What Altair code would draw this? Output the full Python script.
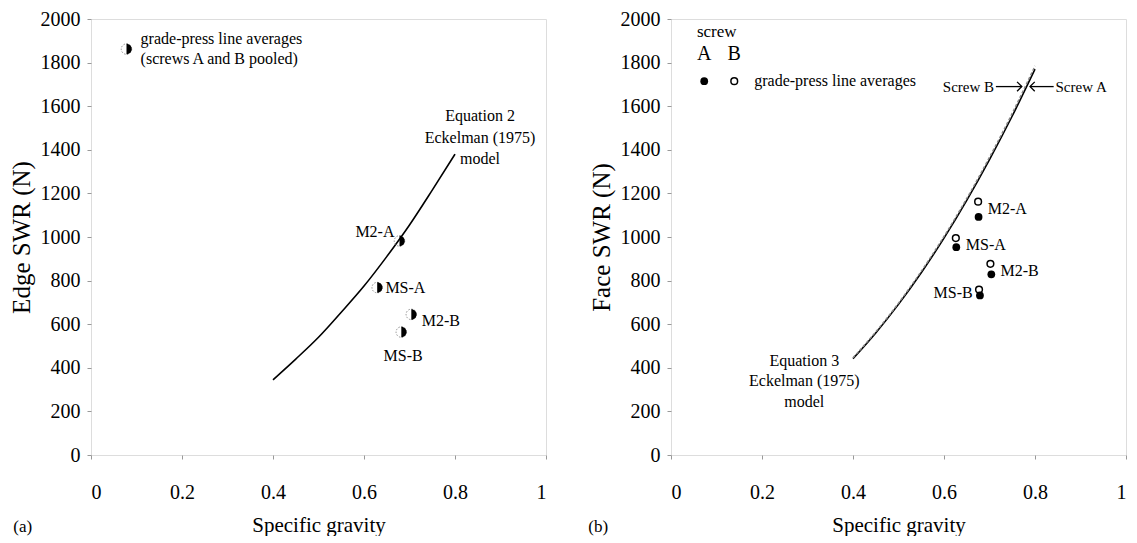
import altair as alt
import pandas as pd

FONT = "'Liberation Serif', 'Times New Roman', 'DejaVu Serif', serif"

# ---------------- data ----------------
point_labels = ["M2-A", "MS-A", "M2-B", "MS-B"]

# Panel (a): edge SWR, grade-press line averages (screws pooled)
edge_sg = [0.678, 0.629, 0.704, 0.682]
edge_swr = [982, 768, 645, 564]

# Eckelman (1975) model curves
curve_sg = [0.40, 0.45, 0.50, 0.55, 0.60, 0.65, 0.70, 0.75, 0.80]
edge_curve = [345, 440, 540, 655, 775, 910, 1055, 1215, 1380]
face_curve_a = [442, 560, 691, 836, 995, 1168, 1355, 1555, 1770]
face_curve_b = [446, 565, 697, 843, 1003, 1177, 1366, 1568, 1785]

# Panel (b): face SWR by screw
face_sg_a = [0.676, 0.627, 0.704, 0.679]
face_swr_a = [1092, 953, 829, 732]
face_sg_b = [0.675, 0.626, 0.702, 0.677]
face_swr_b = [1162, 995, 877, 759]

x_ticks = [0, 0.2, 0.4, 0.6, 0.8, 1]
y_ticks = [0, 200, 400, 600, 800, 1000, 1200, 1400, 1600, 1800, 2000]

W, H = 455, 436

# ---------------- helpers ----------------
def X(title):
    return alt.X("x:Q", scale=alt.Scale(domain=[0, 1], nice=False, zero=False),
                 axis=alt.Axis(values=x_ticks, format=".1~f", title=title, grid=False,
                               domain=False, tickSize=4, tickColor="#999",
                               labelPadding=23, labelFont=FONT, labelFontSize=20,
                               labelColor="black", titleFont=FONT, titleFontSize=21,
                               titleFontWeight="normal", titleColor="black",
                               titlePadding=12))


def Y(title):
    return alt.Y("y:Q", scale=alt.Scale(domain=[0, 2000], nice=False),
                 axis=alt.Axis(values=y_ticks, format="d", title=title, grid=False,
                               domain=False, tickSize=4, tickColor="#999",
                               labelPadding=7, labelFont=FONT, labelFontSize=20,
                               labelColor="black", titleFont=FONT, titleFontSize=25,
                               titleFontWeight="normal", titleColor="black",
                               titlePadding=6))


def texts(xs, ys, ts, align, xt, yt, size=16):
    df = pd.DataFrame({"x": xs, "y": ys, "t": ts})
    return alt.Chart(df).mark_text(align=align, baseline="middle", font=FONT,
                                   fontSize=size, color="black").encode(
        x=X(xt), y=Y(yt), text="t:N")


# ---------------- panel (a) ----------------
xa, ya = "Specific gravity", "Edge SWR (N)"
curve_a_df = pd.DataFrame({"x": curve_sg, "y": edge_curve})
pts_a_df = pd.DataFrame({"x": edge_sg + [0.078], "y": edge_swr + [1862]})

half = "M0,-1A1,1,0,0,1,0,1Z"

a_layers = [
    alt.Chart(curve_a_df).mark_line(color="black", strokeWidth=1.6, interpolate="monotone")
    .encode(x=X(xa), y=Y(ya)),
    alt.Chart(pts_a_df).mark_point(shape="circle", size=110, filled=False, stroke="#777",
                                   strokeWidth=0.8, strokeDash=[1.5, 1.5], opacity=1)
    .encode(x=X(xa), y=Y(ya)),
    alt.Chart(pts_a_df).mark_point(shape=half, size=110, filled=True, fill="black",
                                   strokeWidth=0, opacity=1)
    .encode(x=X(xa), y=Y(ya)),
    texts([0.667], [1024], ["M2-A"], "right", xa, ya),
    texts([0.647, 0.727], [768, 614], ["MS-A", "M2-B"], "left", xa, ya),
    texts([0.686], [455], ["MS-B"], "center", xa, ya),
    texts([0.109, 0.109], [1908, 1818],
          ["grade-press line averages", "(screws A and B pooled)"], "left", xa, ya),
    texts([0.855, 0.855, 0.855], [1556, 1456, 1356],
          ["Equation 2", "Eckelman (1975)", "model"], "center", xa, ya),
    texts([-0.15], [-331], ["(a)"], "center", xa, ya, size=17),
]
panel_a = alt.layer(*a_layers).properties(width=W, height=H)

# ---------------- panel (b) ----------------
xb, yb = "Specific gravity", "Face SWR (N)"
curve_b_a = pd.DataFrame({"x": curve_sg, "y": face_curve_a})
curve_b_b = pd.DataFrame({"x": curve_sg, "y": face_curve_b})
pts_fa = pd.DataFrame({"x": face_sg_a + [0.073], "y": face_swr_a + [1715]})
pts_fb = pd.DataFrame({"x": face_sg_b + [0.139], "y": face_swr_b + [1715]})

arrow_y = 1690
arrow_rules = pd.DataFrame({"x": [0.714, 0.789], "x2": [0.771, 0.841],
                            "y": [arrow_y, arrow_y]})
tip_r = pd.DataFrame({"x": [0.771], "y": [arrow_y]})
tip_l = pd.DataFrame({"x": [0.789], "y": [arrow_y]})
chev = "M-1,-1L0,0L-1,1"

b_layers = [
    alt.Chart(curve_b_a).mark_line(color="black", strokeWidth=1.6, interpolate="monotone")
    .encode(x=X(xb), y=Y(yb)),
    alt.Chart(curve_b_b).mark_line(color="#888", strokeWidth=1.4, strokeDash=[3, 2],
                                   interpolate="monotone")
    .encode(x=X(xb), y=Y(yb)),
    alt.Chart(pts_fa).mark_point(shape="circle", size=60, filled=True, fill="black",
                                 strokeWidth=0, opacity=1)
    .encode(x=X(xb), y=Y(yb)),
    alt.Chart(pts_fb).mark_point(shape="circle", size=45, filled=False, stroke="black",
                                 strokeWidth=1.5, opacity=1)
    .encode(x=X(xb), y=Y(yb)),
    alt.Chart(arrow_rules).mark_rule(color="black", strokeWidth=1.3)
    .encode(x=X(xb), x2="x2:Q", y=Y(yb)),
    alt.Chart(tip_r).mark_point(shape=chev, size=90, filled=False, stroke="black",
                                strokeWidth=1.3, opacity=1)
    .encode(x=X(xb), y=Y(yb)),
    alt.Chart(tip_l).mark_point(shape=chev, size=90, filled=False, stroke="black",
                                strokeWidth=1.3, opacity=1, angle=180)
    .encode(x=X(xb), y=Y(yb)),
    texts([0.71], [arrow_y], ["Screw B"], "right", xb, yb, size=15),
    texts([0.845], [arrow_y], ["Screw A"], "left", xb, yb, size=15),
    texts([0.696, 0.648, 0.724], [1127, 964, 845], ["M2-A", "MS-A", "M2-B"], "left", xb, yb),
    texts([0.663], [741], ["MS-B"], "right", xb, yb),
    texts([0.057], [1942], ["screw"], "left", xb, yb, size=17),
    texts([0.073, 0.139], [1840, 1840], ["A", "B"], "center", xb, yb, size=20),
    texts([0.183], [1715], ["grade-press line averages"], "left", xb, yb),
    texts([0.293, 0.293, 0.293], [432, 341, 245],
          ["Equation 3", "Eckelman (1975)", "model"], "center", xb, yb),
    texts([-0.16], [-331], ["(b)"], "center", xb, yb, size=17),
]
panel_b = alt.layer(*b_layers).properties(width=W, height=H)

chart = (
    alt.hconcat(panel_a, panel_b, spacing=40)
    .properties(padding={"left": 0, "top": 0, "right": 0, "bottom": 0})
    .configure_view(stroke="black", strokeWidth=1.5)
    .configure(background="white")
)

chart.save("out.html", embed_options={"renderer": "svg", "actions": False})
